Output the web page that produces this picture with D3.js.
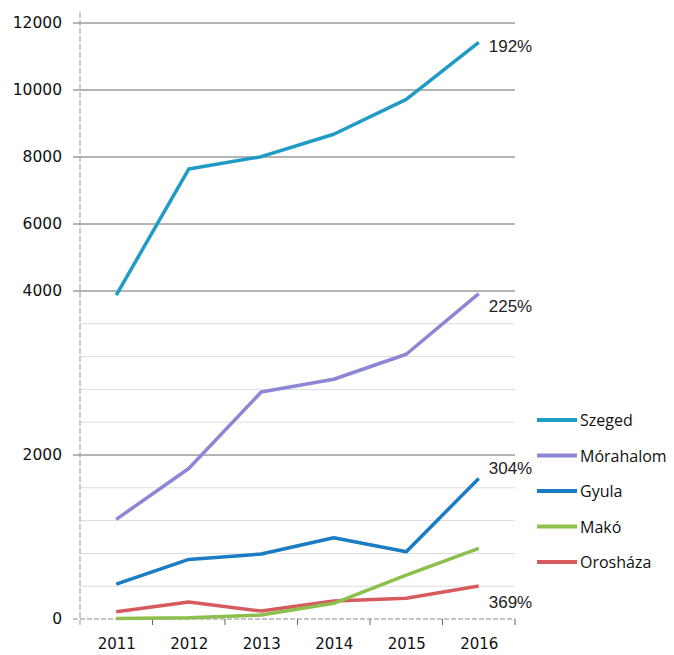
<!DOCTYPE html>
<html>
<head>
<meta charset="utf-8">
<script src="https://cdn.jsdelivr.net/npm/d3@7"></script>
<style>
  body { margin: 0; background: #fff; }
  svg { display: block; }
</style>
</head>
<body>
<svg id="chart" width="674" height="655"></svg>
<script>
// DATA ------------------------------------------------------------------
const years = ["2011", "2012", "2013", "2014", "2015", "2016"];

const szeged    = [3950, 7640, 8010, 8680, 9720, 11420];
const morahalom = [1215, 1836, 2769, 2924, 3229, 3968];
const gyula     = [426, 727, 792, 991, 820, 1714];
const mako      = [5, 15, 49, 191, 536, 861];
const oroshaza  = [89, 207, 97, 219, 252, 402];

const seriesNames = ["Szeged", "Mórahalom", "Gyula", "Makó", "Orosháza"];
const growthLabels = ["192%", "225%", "304%", null, "369%"];

const majorTicks = [0, 2000, 4000, 6000, 8000, 10000, 12000];
const minorTicks = [400, 800, 1200, 1600, 2400, 2800, 3200, 3600];

const colors = ["#1f9bc6", "#8b87d4", "#1a7cc2", "#8cbf4c", "#d65b5e"];

const allSeries = [szeged, morahalom, gyula, mako, oroshaza];

// SET UP ----------------------------------------------------------------
const svg = d3.select("#chart");
const plotLeft = 80, plotRight = 515, plotTop = 23, plotBottom = 619;

const x = d3.scalePoint().domain(years).range([plotLeft, plotRight]).padding(0.5);
const band = (plotRight - plotLeft) / years.length;

// broken axis: 0-4000 is stretched, 4000-12000 compressed
const y = d3.scaleLinear().domain([0, 4000, 12000]).range([plotBottom, 291, plotTop]);

// gridlines
svg.append("g").selectAll("line")
    .data(minorTicks)
    .join("line")
    .attr("x1", plotLeft).attr("x2", plotRight)
    .attr("y1", d => y(d)).attr("y2", d => y(d))
    .attr("stroke", "#dcdcdc").attr("stroke-width", 1);

svg.append("g").selectAll("line")
    .data(majorTicks.filter(d => d > 0))
    .join("line")
    .attr("x1", plotLeft - 7).attr("x2", plotRight)
    .attr("y1", d => y(d)).attr("y2", d => y(d))
    .attr("stroke", "#6a6a6a").attr("stroke-width", 1);

// y axis
const yAxis = d3.axisLeft(y).tickValues(majorTicks).tickSize(0).tickPadding(18).tickFormat(d3.format("d"));
const gy = svg.append("g")
    .attr("transform", `translate(${plotLeft},0)`)
    .call(yAxis);
gy.select(".domain").remove();
gy.selectAll("text")
    .attr("font-family", "DejaVu Sans")
    .attr("font-size", 15.5)
    .attr("fill", "#111");

svg.append("line")
    .attr("x1", plotLeft).attr("x2", plotLeft)
    .attr("y1", 12).attr("y2", plotBottom + 6)
    .attr("stroke", "#9a9a9a").attr("stroke-width", 1)
    .attr("stroke-dasharray", "6,2");

// x axis
svg.append("line")
    .attr("x1", plotLeft - 7).attr("x2", plotRight)
    .attr("y1", plotBottom).attr("y2", plotBottom)
    .attr("stroke", "#8a8a8a").attr("stroke-width", 1)
    .attr("stroke-dasharray", "5,2");

svg.append("g").selectAll("line")
    .data(years)
    .join("line")
    .attr("x1", d => x(d) + band / 2).attr("x2", d => x(d) + band / 2)
    .attr("y1", plotBottom).attr("y2", plotBottom + 6)
    .attr("stroke", "#666");

const xAxis = d3.axisBottom(x).tickSize(0).tickPadding(19);
const gx = svg.append("g")
    .attr("transform", `translate(0,${plotBottom})`)
    .call(xAxis);
gx.select(".domain").remove();
gx.selectAll("text")
    .attr("font-family", "DejaVu Sans")
    .attr("font-size", 15)
    .attr("fill", "#111");

// LINES -----------------------------------------------------------------
const line = d3.line()
    .x((d, i) => x(years[i]))
    .y(d => y(d));

// draw bottom series first so Szeged ends on top
[4, 3, 2, 1, 0].forEach(k => {
    svg.append("path")
        .datum(allSeries[k])
        .attr("fill", "none")
        .attr("stroke", colors[k])
        .attr("stroke-width", 3.5)
        .attr("stroke-linejoin", "round")
        .attr("d", line);
});

// growth labels at the 2016 end
const labelOffsets = [10, 18, -4, 0, 22];
allSeries.forEach((s, k) => {
    if (!growthLabels[k]) return;
    svg.append("text")
        .attr("x", x("2016") + 10)
        .attr("y", y(s[s.length - 1]) + labelOffsets[k])
        .attr("font-family", "Liberation Sans")
        .attr("font-size", 17)
        .attr("fill", "#222")
        .text(growthLabels[k]);
});

// LEGEND ----------------------------------------------------------------
const legend = svg.append("g").attr("transform", "translate(537,420)");
seriesNames.forEach((name, k) => {
    const g = legend.append("g").attr("transform", `translate(0,${k * 35.5})`);
    g.append("line")
        .attr("x1", 0).attr("x2", 40)
        .attr("stroke", colors[k]).attr("stroke-width", 4);
    g.append("text")
        .attr("x", 43).attr("y", 6)
        .attr("font-family", "Open Sans")
        .attr("font-size", 16)
        .attr("fill", "#111")
        .text(name);
});
</script>
</body>
</html>
